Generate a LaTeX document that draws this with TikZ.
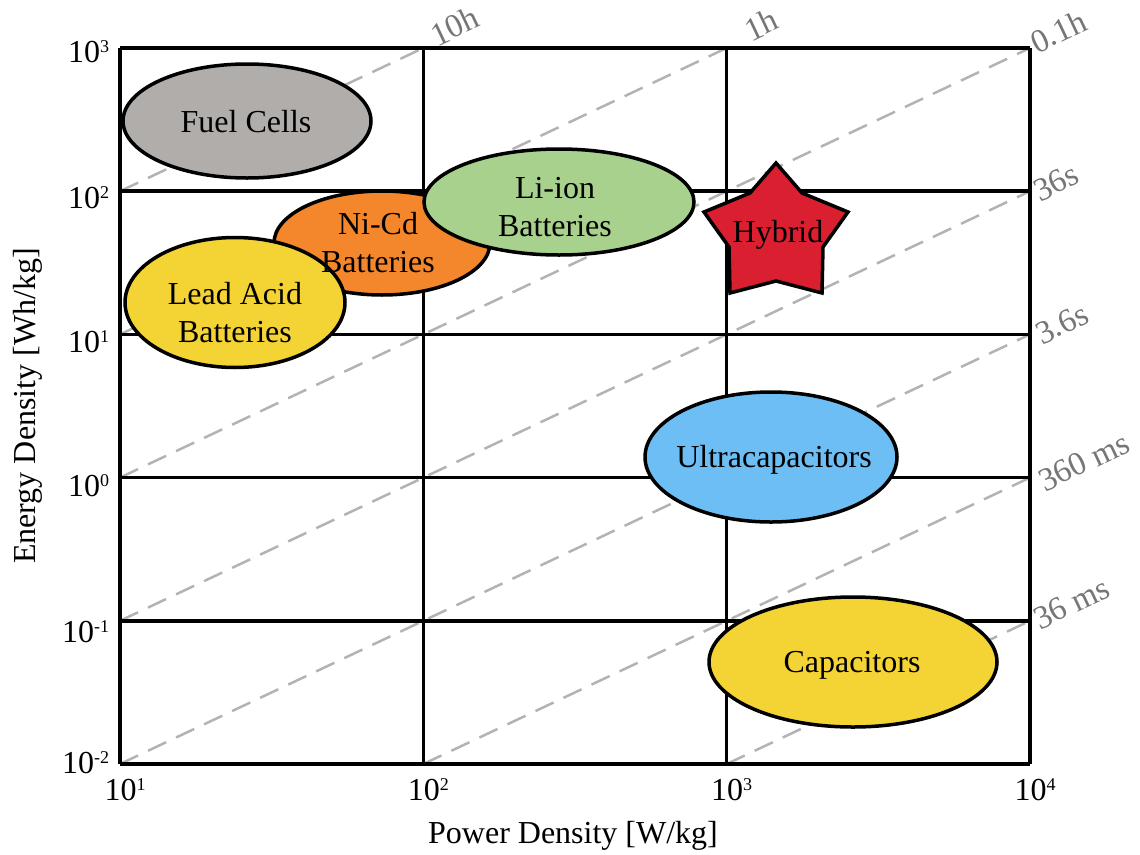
\documentclass[tikz,border=0pt]{standalone}
\usepackage{fontspec}
\setmainfont{Liberation Serif}
\usetikzlibrary{shapes.geometric}
\definecolor{fcgray}{HTML}{B0ADAB}
\definecolor{layellow}{HTML}{F4D335}
\definecolor{nicdorange}{HTML}{F4862B}
\definecolor{liiongreen}{HTML}{A9D18E}
\definecolor{ucblue}{HTML}{6DBEF4}
\definecolor{hybridred}{HTML}{D91F30}
\definecolor{dashgray}{HTML}{B3B3B3}
\definecolor{labgray}{HTML}{767676}
\newcommand{\supx}[1]{\raisebox{9.4pt}{\fontsize{18}{20}\selectfont #1}}
\begin{document}
\begin{tikzpicture}[x=1pt,y=-1pt,
  every node/.style={inner sep=0pt, outer sep=0pt},
  big/.style={font=\fontsize{32}{38}\selectfont},
  tick/.style={font=\fontsize{32}{36}\selectfont},
  gridline/.style={line width=3.5pt, black},
  iso/.style={dashgray, line width=2.5pt, dash pattern=on 20pt off 11pt},
  isolab/.style={labgray, font=\fontsize{33}{36}\selectfont, rotate=25.27, anchor=base west},
  blob/.style={ellipse, draw=black, line width=3.5pt},
  starshape/.style={draw=black, line width=3.5pt, fill=hybridred, line join=miter},
]
\useasboundingbox (0,0) rectangle (1140,854);
% grid coordinates
\foreach \i/\x in {1/120,2/423.33,3/726.67,4/1030}{
  \foreach \j/\y in {3/48,2/191.2,1/334.4,0/477.6,m1/620.8,m2/764}{
    \coordinate (g\i\j) at (\x,\y);
  }
}
% iso-time lines
\draw[iso] (g12) -- (g23);
\draw[iso] (g11) -- (g33);
\draw[iso] (g10) -- (g43);
\draw[iso] (g1m1) -- (g42);
\draw[iso] (g1m2) -- (g41);
\draw[iso] (g2m2) -- (g40);
\draw[iso] (g3m2) -- (g4m1);
% grid
\foreach \i in {1,2,3,4}{ \draw[gridline] (g\i3) -- (g\i m2); }
\foreach \j in {3,2,1,0,m1,m2}{ \draw[gridline] (g1\j) -- (g4\j); }
% time labels
\node[isolab] (l10h) at (437,47) {10h};
\node[isolab] (l1h) at (751,42) {1h};
\node[isolab] (l01h) at (1037,54) {0.1h};
\node[isolab] (l36s) at (1040,202) {36s};
\node[isolab] (l36) at (1042,345) {3.6s};
\node[isolab] (l360ms) at (1045,492) {360 ms};
\node[isolab] (l36ms) at (1040,630) {36 ms};
% tick labels
\node[tick, anchor=base east] (y3) at (109,62) {10\supx{3}};
\node[tick, anchor=base east] (y2) at (109,208) {10\supx{2}};
\node[tick, anchor=base east] (y1) at (109,352) {10\supx{1}};
\node[tick, anchor=base east] (y0) at (109,496) {10\supx{0}};
\node[tick, anchor=base east] (ym1) at (109,642) {10\supx{-1}};
\node[tick, anchor=base east] (ym2) at (109,773) {10\supx{-2}};
\node[tick, anchor=base] (x1) at (125,800) {10\supx{1}};
\node[tick, anchor=base] (x2) at (428.3,800) {10\supx{2}};
\node[tick, anchor=base] (x3) at (731.7,800) {10\supx{3}};
\node[tick, anchor=base] (x4) at (1035,800) {10\supx{4}};
% axis titles
\node[big, anchor=base] (xt) at (573,843) {Power Density [W/kg]};
\node[big, anchor=base, rotate=90] (yt) at (35,406) {Energy Density [Wh/kg]};
% technology shapes
\node[blob, fill=fcgray, minimum width=248pt, minimum height=114pt] (fc) at (247,121) {};
\node[blob, fill=nicdorange, minimum width=216pt, minimum height=104pt] (nc) at (382,243) {};
\node[blob, fill=layellow, minimum width=220pt, minimum height=130pt] (la) at (235,302.5) {};
\node[blob, fill=liiongreen, minimum width=270pt, minimum height=106pt] (li) at (559,202) {};
\draw[starshape] (776,163) -- (802,193) -- (848,212) -- (823,247) -- (822,293)
  -- (776,281) -- (730,293) -- (729,247) -- (704,212) -- (750,193) -- cycle;
\node[blob, fill=ucblue, minimum width=252pt, minimum height=130pt] (uc) at (771,457) {};
\node[blob, fill=layellow, minimum width=288pt, minimum height=130pt] (ca) at (853,662) {};
% technology labels
\node[big, anchor=base] (fct) at (246,132) {Fuel Cells};
\node[big, align=center] (nct) at (378,243) {Ni-Cd\\Batteries};
\node[big, align=center] (lat) at (235,312.5) {Lead Acid\\Batteries};
\node[big, align=center] (lit) at (555,207) {Li-ion\\Batteries};
\node[big, anchor=base] (hyt) at (778,242) {Hybrid};
\node[big, anchor=base] (uct) at (774,467) {Ultracapacitors};
\node[big, anchor=base] (cat) at (852,672) {Capacitors};
\end{tikzpicture}
\end{document}
